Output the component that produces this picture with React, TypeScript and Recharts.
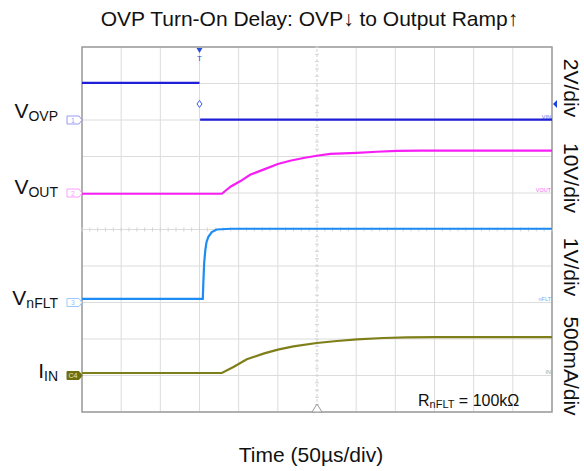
import { LineChart, Line, XAxis, YAxis, CartesianGrid, ReferenceLine, ReferenceDot, ReferenceArea } from "recharts";

const W = 584;
const H = 471;
const FONT = "'Liberation Sans', Arial, sans-serif";

// scope screen: 12 div x 50us, trigger 3 div from left
const gridTimes = [-150, -100, -50, 0, 50, 100, 200, 250, 300, 350, 400, 450];
const gridDivs = [0, 1, 2, 3, 4, 5, 6, 7, 8, 9, 10];
const centerTime = 150;
const centerDiv = 5;

// CH1 VOVP (V), 2V/div
const vovpTime = [-150, 0, 0.4, 0.8, 450];
const vovpVolts = [2.03, 2.03, null, 0.02, 0.02];

// CH2 VOUT (V), 10V/div
const voutTime = [-150, 28.5, 40, 51.8, 64.6, 81.6, 100, 115.7, 132.7, 149.8, 166.8, 200.9, 226.4, 252, 282, 450];
const voutVolts = [-0.2, -0.2, 1.8, 3.2, 5.0, 6.4, 7.95, 8.85, 9.6, 10.2, 10.7, 11.0, 11.3, 11.55, 11.6, 11.6];

// CH3 VnFLT (V), 1V/div
const nfltTime = [-150, 4.2, 5.0, 6.0, 7.5, 9, 11.3, 15.7, 22, 40, 450];
const nfltVolts = [0.1, 0.1, 0.6, 1.1, 1.45, 1.66, 1.8, 1.93, 2.0, 2.02, 2.02];

// CH4 IIN (mA), 500mA/div
const iinTime = [-150, 28.5, 43.3, 60.4, 81.6, 100, 119.9, 149.8, 175.4, 200.9, 234.9, 264.8, 300, 450];
const iinMilliamps = [34, 34, 116, 222, 300, 355, 400, 445, 473, 496, 514, 523, 525, 525];

const trigLevel = 0.88;

const toRows = (ts: number[], vs: (number | null)[]) => ts.map((t, i) => ({ t, v: vs[i] }));

const channels = [
  { id: "c1", domain: [-16, 4], color: "#1f1fd8", tag: "#9a9af2", num: "1", main: "V", sub: "OVP", dy: -2.4, edge: "VIN", rows: toRows(vovpTime, vovpVolts) },
  { id: "c2", domain: [-60, 40], color: "#f71ef5", tag: "#ff9cff", num: "2", main: "V", sub: "OUT", dy: 0.8, edge: "VOUT", rows: toRows(voutTime, voutVolts) },
  { id: "c3", domain: [-3, 7], color: "#1e8cf5", tag: "#9cc8ff", num: "3", main: "V", sub: "nFLT", dy: 2, edge: "nFLT", rows: toRows(nfltTime, nfltVolts) },
  { id: "c4", domain: [-500, 4500], color: "#7f7f1a", tag: "#6e6e12", num: "C4", main: "I", sub: "IN", dy: 2, edge: "IN", rows: toRows(iinTime, iinMilliamps) },
];

const rightLabels = [
  { text: "2V/div", y: 88 },
  { text: "10V/div", y: 178 },
  { text: "1V/div", y: 267 },
  { text: "500mA/div", y: 366 },
];

const minorTimes = Array.from({ length: 61 }, (_, i) => -150 + i * 10);
const minorDivs = Array.from({ length: 51 }, (_, i) => i * 0.2);

function ChannelTag(props: any, ch: any) {
  const { cx, cy } = props;
  const filled = ch.id === "c4";
  return (
    <g>
      <path
        d={`M${cx - 15},${cy - 4} L${cx - 3},${cy - 4} L${cx},${cy} L${cx - 3},${cy + 4} L${cx - 15},${cy + 4} Z`}
        fill={filled ? ch.tag : "#fff"}
        stroke={ch.tag}
        strokeWidth={1}
      />
      <text x={cx - 9} y={cy + 2.5} fontSize={7} textAnchor="middle" fill={filled ? "#e8e8c0" : ch.tag} fontFamily={FONT}>
        {ch.num}
      </text>
      <text x={cx - 24} y={cy + ch.dy} textAnchor="end" fill="#111" fontFamily={FONT}>
        <tspan fontSize={21}>{ch.main}</tspan>
        <tspan fontSize={14} dy={3.2}>{ch.sub}</tspan>
      </text>
    </g>
  );
}

export default function App() {
  return (
    <div style={{ position: "absolute", left: 0, top: 0, width: W, height: H, background: "#fff" }}>
      <LineChart width={W} height={H} margin={{ top: 47, right: 32, bottom: 59, left: 82 }}>
        <XAxis dataKey="t" type="number" domain={[-150, 450]} ticks={gridTimes} allowDataOverflow hide />
        <YAxis yAxisId="div" type="number" domain={[0, 10]} ticks={gridDivs} allowDataOverflow hide />
        {channels.map((ch) => (
          <YAxis key={ch.id} yAxisId={ch.id} type="number" domain={ch.domain} allowDataOverflow hide />
        ))}
        <CartesianGrid yAxisId="div" stroke="#dcdcdc" strokeWidth={1} />
        <ReferenceLine x={centerTime} yAxisId="div" stroke="#d2d2d2" strokeDasharray="3 2" />
        {minorDivs.map((d) => (
          <ReferenceLine
            key={"mv" + d}
            yAxisId="div"
            segment={[{ x: centerTime - 2.5, y: d }, { x: centerTime + 2.5, y: d }]}
            stroke="#d4d4d4"
          />
        ))}
        {minorTimes.map((t) => (
          <ReferenceLine
            key={"mh" + t}
            yAxisId="div"
            segment={[{ x: t, y: centerDiv - 0.055 }, { x: t, y: centerDiv + 0.055 }]}
            stroke="#d4d4d4"
          />
        ))}
        <ReferenceArea x1={-150} x2={450} y1={0} y2={10} yAxisId="div" fill="none" fillOpacity={0} stroke="#9c9c9c" strokeWidth={1.5} />

        {channels.map((ch) => (
          <Line
            key={"l" + ch.id}
            data={ch.rows}
            dataKey="v"
            yAxisId={ch.id}
            type="linear"
            stroke={ch.color}
            strokeWidth={2.2}
            dot={false}
            connectNulls={false}
            isAnimationActive={false}
          />
        ))}

        {channels.map((ch) => (
          <ReferenceDot key={"tag" + ch.id} x={-150} y={0} yAxisId={ch.id} shape={(p: any) => ChannelTag(p, ch)} />
        ))}
        {channels.map((ch) => (
          <ReferenceDot
            key={"edge" + ch.id}
            x={450}
            y={0}
            yAxisId={ch.id}
            shape={(p: any) => (
              <text x={p.cx - 1} y={p.cy - 1.5} fontSize={5.5} textAnchor="end" fill={ch.color} opacity={0.7} fontFamily={FONT}>
                {ch.edge}
              </text>
            )}
          />
        ))}

        <ReferenceDot
          x={0}
          y={10}
          yAxisId="div"
          shape={(p: any) => (
            <g>
              <path d={`M${p.cx - 3},${p.cy + 1} L${p.cx + 3},${p.cy + 1} L${p.cx},${p.cy + 6} Z`} fill="#2a4fd8" />
              <text x={p.cx} y={p.cy + 14} fontSize={8} textAnchor="middle" fill="#2a4fd8" fontFamily={FONT}>T</text>
            </g>
          )}
        />
        <ReferenceDot
          x={0}
          y={trigLevel}
          yAxisId="c1"
          shape={(p: any) => (
            <path d={`M${p.cx},${p.cy - 3.5} L${p.cx + 2.5},${p.cy} L${p.cx},${p.cy + 3.5} L${p.cx - 2.5},${p.cy} Z`} fill="#fff" stroke="#3a5ae0" strokeWidth={1} />
          )}
        />
        <ReferenceDot
          x={450}
          y={trigLevel}
          yAxisId="c1"
          shape={(p: any) => (
            <path d={`M${p.cx + 1},${p.cy} L${p.cx + 5},${p.cy - 4} L${p.cx + 5},${p.cy + 4} Z`} fill="#1f3fe0" />
          )}
        />
        <ReferenceDot
          x={centerTime}
          y={0}
          yAxisId="div"
          shape={(p: any) => (
            <path d={`M${p.cx - 5},${p.cy} L${p.cx + 5},${p.cy} L${p.cx},${p.cy - 8} Z`} fill="#fff" stroke="#999" strokeWidth={1} />
          )}
        />
      </LineChart>

      <svg width={W} height={H} style={{ position: "absolute", left: 0, top: 0, pointerEvents: "none" }} fontFamily={FONT}>
        <text x={309.5} y={26} fontSize={21} textAnchor="middle" fill="#111">
          OVP Turn-On Delay: OVP↓ to Output Ramp↑
        </text>
        <text x={311} y={461.5} fontSize={21} textAnchor="middle" fill="#111">
          Time (50µs/div)
        </text>
        <text x={418} y={405.5} fontSize={16} fill="#111">
          R<tspan fontSize={11} dy={2}>nFLT</tspan>
          <tspan fontSize={16} dy={-2}> = 100kΩ</tspan>
        </text>
        {rightLabels.map((l) => (
          <text
            key={l.text}
            transform={`translate(571.5, ${l.y}) rotate(90)`}
            fontSize={21}
            textAnchor="middle"
            dominantBaseline="central"
            fill="#111"
          >
            {l.text}
          </text>
        ))}
      </svg>
    </div>
  );
}
